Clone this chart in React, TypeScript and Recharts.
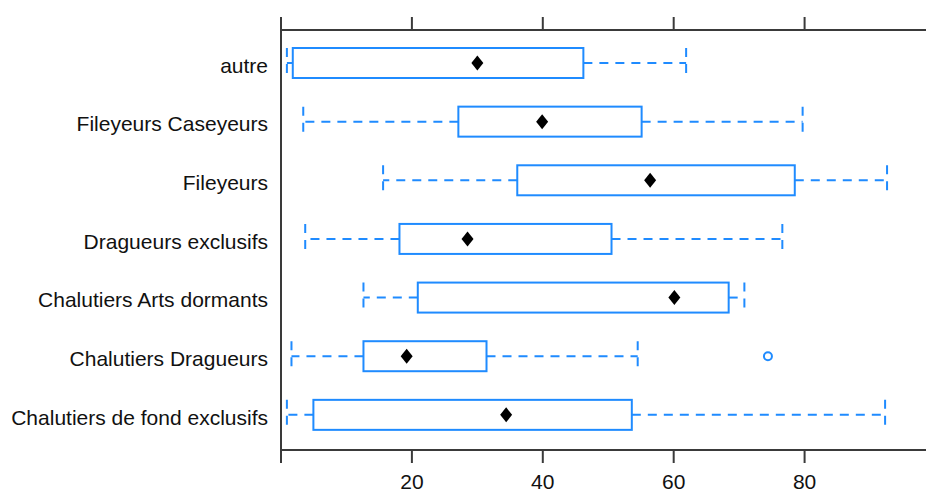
import React from 'react';
import { ComposedChart, Bar, XAxis, YAxis } from 'recharts';

const categories = [
  'autre',
  'Fileyeurs Caseyeurs',
  'Fileyeurs',
  'Dragueurs exclusifs',
  'Chalutiers Arts dormants',
  'Chalutiers Dragueurs',
  'Chalutiers de fond exclusifs',
];
const lows = [0.9, 3.4, 15.6, 3.7, 12.6, 1.6, 0.9];
const q1s = [1.8, 27.1, 36.1, 18.1, 20.9, 12.6, 4.95];
const medians = [30.0, 39.9, 56.4, 28.5, 60.1, 19.2, 34.4];
const q3s = [46.2, 55.1, 78.5, 50.5, 68.4, 31.4, 53.6];
const highs = [61.9, 79.7, 92.6, 76.6, 70.8, 54.5, 92.3];
const outliers: number[][] = [[], [], [], [], [], [74.4], []];
const xTicks = [0, 20, 40, 60, 80];

const BLUE = '#1f8bff';
const AXIS = '#3a3a3a';
const FONT = '"Liberation Sans", Arial, sans-serif';

const data = categories.map((name, i) => ({
  name,
  low: lows[i],
  q1: q1s[i],
  median: medians[i],
  q3: q3s[i],
  high: highs[i],
  outliers: outliers[i],
  range: [lows[i], highs[i]],
}));

const BoxShape = (props: any) => {
  const { x, y, width, height, payload } = props;
  if (!payload) return null;
  const lo = payload.low;
  const hi = payload.high;
  const px = (v: number) => x + ((v - lo) / (hi - lo)) * width;
  const cy = y + height / 2;
  const top = y;
  const bot = y + height;
  const xl = px(payload.low);
  const x1 = px(payload.q1);
  const xm = px(payload.median);
  const x3 = px(payload.q3);
  const xh = px(payload.high);
  const dash = '9 7';
  return (
    <g>
      <line x1={x1} y1={cy} x2={xl} y2={cy} stroke={BLUE} strokeWidth={2} strokeDasharray={dash} />
      <line x1={x3} y1={cy} x2={xh} y2={cy} stroke={BLUE} strokeWidth={2} strokeDasharray={dash} />
      <line x1={xl} y1={top} x2={xl} y2={bot} stroke={BLUE} strokeWidth={2} strokeDasharray={dash} />
      <line x1={xh} y1={top} x2={xh} y2={bot} stroke={BLUE} strokeWidth={2} strokeDasharray={dash} />
      <rect x={x1} y={top} width={x3 - x1} height={bot - top} fill="#fff" stroke={BLUE} strokeWidth={2} />
      <polygon
        points={`${xm},${cy - 7.5} ${xm + 6},${cy} ${xm},${cy + 7.5} ${xm - 6},${cy}`}
        fill="#000"
      />
      {payload.outliers.map((o: number, k: number) => (
        <circle key={k} cx={px(o)} cy={cy} r={4} fill="none" stroke={BLUE} strokeWidth={2} />
      ))}
    </g>
  );
};

const EmptyTick = () => <g />;

export default function App() {
  return (
    <div style={{ position: 'absolute', left: 0, top: 0, background: '#fff' }}>
      <ComposedChart
        width={926}
        height={492}
        data={data}
        layout="vertical"
        margin={{ top: 0, right: 0, bottom: 0, left: 0 }}
      >
        <XAxis
          xAxisId="top"
          orientation="top"
          type="number"
          domain={[0, 98.55]}
          ticks={xTicks}
          allowDataOverflow
          height={30}
          tickSize={13}
          tick={EmptyTick}
          axisLine={{ stroke: AXIS, strokeWidth: 2 }}
          tickLine={{ stroke: AXIS, strokeWidth: 2 }}
        />
        <XAxis
          xAxisId="bottom"
          orientation="bottom"
          type="number"
          domain={[0, 98.55]}
          ticks={xTicks}
          allowDataOverflow
          height={42}
          tickSize={13}
          tickMargin={11}
          tickFormatter={(v: number) => (v === 0 ? '' : String(v))}
          tick={{ fontSize: 21, fill: '#111', fontFamily: FONT }}
          axisLine={{ stroke: AXIS, strokeWidth: 2 }}
          tickLine={{ stroke: AXIS, strokeWidth: 2 }}
        />
        <YAxis
          type="category"
          dataKey="name"
          width={281}
          padding={{ top: 4, bottom: 5.5 }}
          tickLine={false}
          tickSize={0}
          tickMargin={13}
          tick={{ fontSize: 21, fill: '#111', fontFamily: FONT, dy: 2 }}
          axisLine={{ stroke: AXIS, strokeWidth: 2 }}
          interval={0}
        />
        <Bar
          xAxisId="bottom"
          dataKey="range"
          barSize={30}
          shape={BoxShape}
          isAnimationActive={false}
        />
      </ComposedChart>
    </div>
  );
}
